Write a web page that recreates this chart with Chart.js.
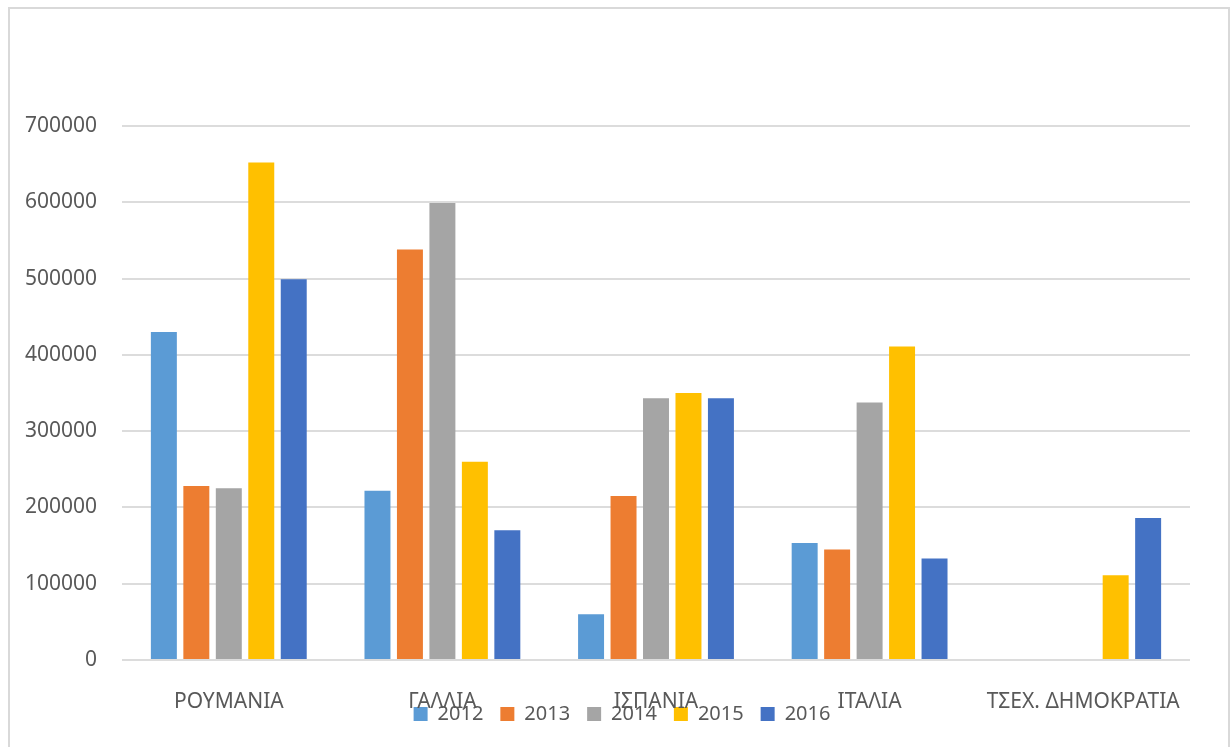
<!DOCTYPE html>
<html lang="el">
<head>
  <meta charset="UTF-8" />
  <title>Chart</title>
  <script src="https://cdn.jsdelivr.net/npm/chart.js"></script>
  <style>
    body { margin: 0; background: #fff; }
    #wrap { position: relative; width: 1231px; height: 747px; }
    #frame {
      position: absolute; left: 8px; top: 7px; width: 1218px; height: 760px;
      border: 2px solid #d9d9d9; pointer-events: none;
    }
  </style>
</head>
<body>
  <div id="wrap">
    <canvas id="chart" width="1231" height="747"></canvas>
    <div id="frame"></div>
  </div>
  <script>
    const countries = ['ΡΟΥΜΑΝΙΑ', 'ΓΑΛΛΙΑ', 'ΙΣΠΑΝΙΑ', 'ΙΤΑΛΙΑ', 'ΤΣΕΧ. ΔΗΜΟΚΡΑΤΙΑ'];
    const years = ['2012', '2013', '2014', '2015', '2016'];
    const v2012 = [430000, 222000, 60000, 153500, null];
    const v2013 = [228000, 538000, 215000, 145000, null];
    const v2014 = [225000, 599000, 343000, 337500, null];
    const v2015 = [652000, 260000, 350000, 411000, 111000];
    const v2016 = [499000, 170000, 343000, 133000, 186000];
    const colors = ['#5B9BD5', '#ED7D31', '#A5A5A5', '#FFC000', '#4472C4'];

    const series = [v2012, v2013, v2014, v2015, v2016];
    const font = { family: "'Noto Sans', 'Open Sans', sans-serif", size: 20 };
    const axisFont = { family: "'Noto Sans', 'Open Sans', sans-serif", size: 21 };

    // the legend overlaps the category labels, as in the original: widen the
    // label clip areas after layout so nothing gets cut off
    const unclipLabels = {
      id: 'unclipLabels',
      afterLayout(chart) {
        chart.scales.y.left = 0;
        chart.scales.x.bottom = chart.height;
      }
    };

    new Chart(document.getElementById('chart'), {
      type: 'bar',
      data: {
        labels: countries,
        datasets: series.map((d, i) => ({
          label: years[i],
          data: d,
          backgroundColor: colors[i],
          barPercentage: 0.8,
          categoryPercentage: 0.76
        }))
      },
      options: {
        responsive: false,
        animation: false,
        layout: { padding: { left: 54, right: 41, top: 126, bottom: 13 } },
        plugins: {
          tooltip: { enabled: false },
          legend: {
            position: 'bottom',
            labels: { boxWidth: 14, boxHeight: 14, padding: 17, color: '#595959', font: font }
          }
        },
        scales: {
          x: {
            grid: { display: false },
            border: { display: false },
            ticks: { color: '#595959', font: axisFont, padding: 21, autoSkip: false, maxRotation: 0 },
            afterFit: s => { s.height = 27; }
          },
          y: {
            min: 0,
            max: 700000,
            ticks: { stepSize: 100000, color: '#595959', font: axisFont, padding: 25, callback: v => String(v) },
            grid: { color: '#dcdcdc', lineWidth: 2, drawTicks: false },
            border: { display: false },
            afterFit: s => { s.width = 68; }
          }
        }
      },
      plugins: [unclipLabels]
    });
  </script>
</body>
</html>
